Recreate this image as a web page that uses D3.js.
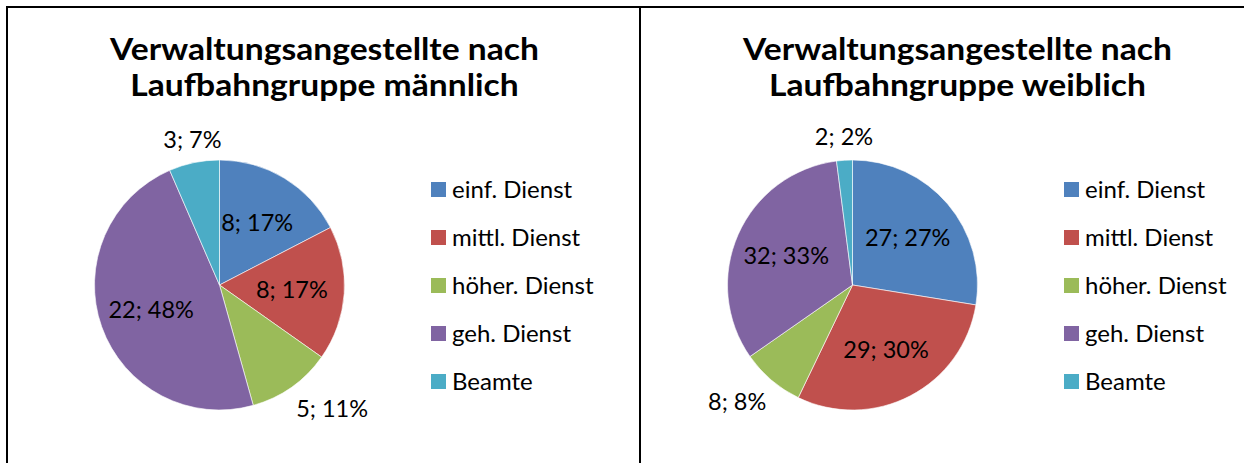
<!DOCTYPE html>
<html><head><meta charset="utf-8">
<script src="https://cdn.jsdelivr.net/npm/d3@7"></script>
<style>html,body{margin:0;padding:0;background:#fff;}svg{display:block;}</style>
</head><body>
<script>
const categories = ["einf. Dienst", "mittl. Dienst", "höher. Dienst", "geh. Dienst", "Beamte"];
const colors = ["#4F81BD", "#C0504D", "#9BBB59", "#8064A2", "#4BACC6"];
const maleValues = [8, 8, 5, 22, 3];
const malePercents = [17, 17, 11, 48, 7];
const femaleValues = [27, 29, 8, 32, 2];
const femalePercents = [27, 30, 8, 33, 2];
const titles = [
  ["Verwaltungsangestellte nach", "Laufbahngruppe männlich"],
  ["Verwaltungsangestellte nach", "Laufbahngruppe weiblich"]
];

const W = 1244, H = 463;
const FONT = "Lato, 'Open Sans', sans-serif";
const svg = d3.select("body").append("svg").attr("width", W).attr("height", H);
svg.append("rect").attr("width", W).attr("height", H).attr("fill", "#fff");

const panelW = 633;
const panels = [
  {x0: 7, values: maleValues, percents: malePercents, title: titles[0]},
  {x0: 640, values: femaleValues, percents: femalePercents, title: titles[1]}
];

const R = 125;
const pie = d3.pie().sort(null).value(d => d);
const arc = d3.arc().innerRadius(0).outerRadius(R);
const color = d3.scaleOrdinal().domain(categories).range(colors);

panels.forEach(p => {
  const g = svg.append("g").attr("transform", `translate(${p.x0},0)`);
  g.append("rect").attr("x", 0).attr("y", 7).attr("width", panelW).attr("height", H + 20)
    .attr("fill", "none").attr("stroke", "#000").attr("stroke-width", 2);

  // title (two separate lines, slightly widened to mimic Calibri proportions)
  const tg = g.append("g").attr("transform", "translate(317.5,0) scale(1.12,1)");
  p.title.forEach((line, i) => {
    tg.append("text").attr("x", 0).attr("y", 60 + i * 36).attr("text-anchor", "middle")
      .attr("font-family", FONT).attr("font-weight", "bold").attr("font-size", 30)
      .attr("fill", "#000").text(line);
  });

  const cx = 212.5, cy = 285;
  const pg = g.append("g").attr("transform", `translate(${cx},${cy})`);
  const arcs = pie(p.values);
  pg.selectAll("path").data(arcs).join("path")
    .attr("d", arc).attr("fill", (d, i) => color(categories[i]))
    .attr("stroke", "#fff").attr("stroke-width", 0.6);

  const total = d3.sum(p.values);
  arcs.forEach((a, i) => {
    const frac = p.values[i] / total;
    const mid = (a.startAngle + a.endAngle) / 2;
    const s = Math.sin(mid), c = -Math.cos(mid);
    const label = `${p.values[i]}; ${p.percents[i]}%`;
    const txt = pg.append("text").attr("font-family", FONT).attr("font-size", 23.5).attr("fill", "#000").text(label);
    if (frac >= 0.13) {
      const r = R * 0.58;
      txt.attr("x", s * r).attr("y", c * r).attr("text-anchor", "middle").attr("dy", "0.35em");
    } else {
      const r = R + 8;
      const anchor = Math.abs(s) < 0.3 ? "middle" : (s > 0 ? "start" : "end");
      txt.attr("x", s * r).attr("y", c * r).attr("text-anchor", anchor)
        .attr("dy", c < 0 ? "-0.3em" : "1.0em");
    }
  });

  // legend
  const lg = g.append("g").attr("transform", `translate(${cx + 211.5},0)`);
  const ly = d3.scalePoint().domain(categories).range([189.5, 381.5]);
  categories.forEach((cat, i) => {
    lg.append("rect").attr("x", 0).attr("y", ly(cat) - 7.5).attr("width", 15).attr("height", 15)
      .attr("fill", color(cat));
    lg.append("text").attr("x", 21).attr("y", ly(cat)).attr("dy", "0.35em")
      .attr("font-family", FONT).attr("font-size", 24).attr("fill", "#000").text(cat);
  });
});
</script>
</body></html>
